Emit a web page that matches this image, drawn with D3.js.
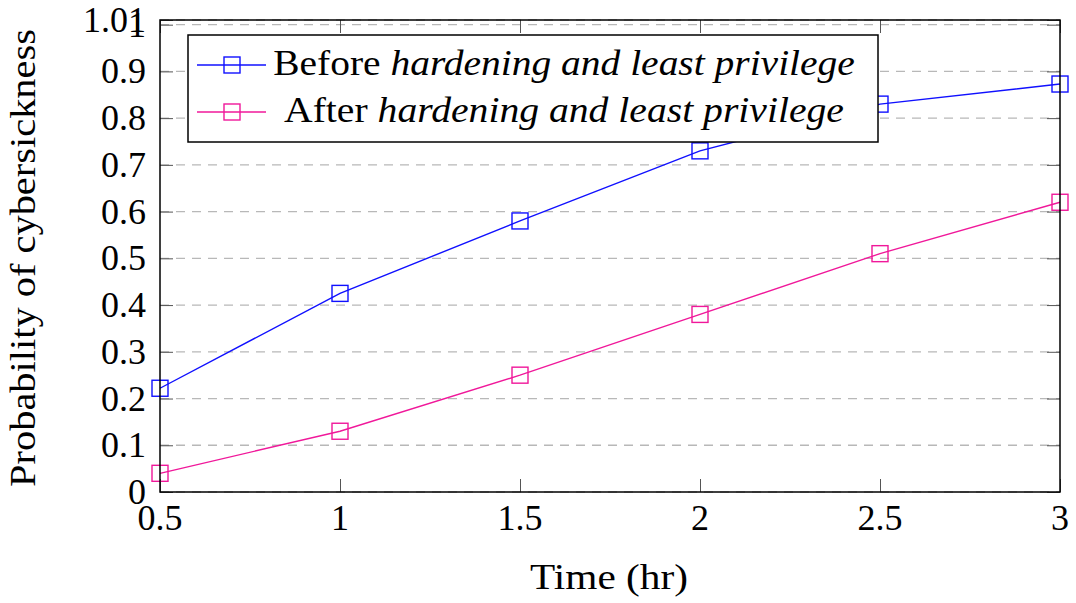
<!DOCTYPE html>
<html>
<head>
<meta charset="utf-8">
<script src="https://cdn.jsdelivr.net/npm/d3@7"></script>
<style>
  html, body { margin: 0; padding: 0; background: #ffffff; }
  svg { display: block; }
  text { font-family: "Liberation Serif", "DejaVu Serif", serif; fill: #000; }
</style>
</head>
<body>
<svg id="chart" width="1076" height="603"></svg>
<script>
// Time points (hours)
const times = [0.5, 1, 1.5, 2, 2.5, 3];
// Probability of cybersickness before/after hardening and least privilege
const beforeValues = [0.222, 0.425, 0.58, 0.73, 0.83, 0.873];
const afterValues  = [0.04, 0.13, 0.25, 0.38, 0.51, 0.62];
// Axis ticks
const xTicks = [0.5, 1, 1.5, 2, 2.5, 3];
const xTickLabels = ["0.5", "1", "1.5", "2", "2.5", "3"];
const yTicks = [0, 0.1, 0.2, 0.3, 0.4, 0.5, 0.6, 0.7, 0.8, 0.9, 1, 1.01];
const yTickLabels = ["0", "0.1", "0.2", "0.3", "0.4", "0.5", "0.6", "0.7", "0.8", "0.9", "1", "1.01"];
// Series definitions
const seriesNames = ["Before", "After"];
const seriesColors = ["#1010ff", "#f0189a"];
const seriesValues = [beforeValues, afterValues];

const svg = d3.select("#chart");
const plotLeft = 160, plotRight = 1060, plotTop = 20, plotBottom = 492;
const fontSize = 36;

const x = d3.scaleLinear().domain([0.5, 3]).range([plotLeft, plotRight]);
const y = d3.scaleLinear().domain([0, 1.01]).range([plotBottom, plotTop]);

// Stretch a text horizontally about a pivot so it spans the given width
function stretchTo(sel, width, pivotX) {
  const w = sel.node().getBBox().width;
  const k = width / w;
  sel.attr("transform", `translate(${pivotX},0) scale(${k},1) translate(${-pivotX},0)`);
}

// Horizontal dashed grid
svg.append("g")
  .selectAll("line")
  .data(yTicks)
  .join("line")
  .attr("x1", plotLeft).attr("x2", plotRight)
  .attr("y1", d => y(d)).attr("y2", d => y(d))
  .attr("stroke", "#b8b8b8")
  .attr("stroke-width", 1.3)
  .attr("stroke-dasharray", "9,7");

const tickLen = 13;
const tickColor = "#555";

// Inward ticks on all four sides
const axisLayer = svg.append("g");
const yAxisL = d3.axisLeft(y).tickValues(yTicks).tickSize(-tickLen).tickFormat("");
const yAxisR = d3.axisRight(y).tickValues(yTicks).tickSize(-tickLen).tickFormat("");
const xAxisB = d3.axisBottom(x).tickValues(xTicks).tickSize(-tickLen).tickFormat("");
const xAxisT = d3.axisTop(x).tickValues(xTicks).tickSize(-tickLen).tickFormat("");
[
  [yAxisL, `translate(${plotLeft},0)`],
  [yAxisR, `translate(${plotRight},0)`],
  [xAxisB, `translate(0,${plotBottom})`],
  [xAxisT, `translate(0,${plotTop})`]
].forEach(([ax, tr]) => {
  const g = axisLayer.append("g").attr("transform", tr).call(ax);
  g.select(".domain").remove();
  g.selectAll(".tick line").attr("stroke", tickColor).attr("stroke-width", 1);
});

// Tick labels
svg.append("g")
  .selectAll("text")
  .data(yTicks)
  .join("text")
  .attr("x", plotLeft - 14)
  .attr("y", d => y(d) + 12)
  .attr("text-anchor", "end")
  .attr("font-size", fontSize)
  .text((d, i) => yTickLabels[i]);

svg.append("g")
  .selectAll("text")
  .data(xTicks)
  .join("text")
  .attr("x", d => x(d))
  .attr("y", plotBottom + 38)
  .attr("text-anchor", "middle")
  .attr("font-size", fontSize)
  .text((d, i) => xTickLabels[i]);

// Axis titles
const xTitle = svg.append("text")
  .attr("x", 609)
  .attr("y", 589)
  .attr("text-anchor", "middle")
  .attr("font-size", fontSize)
  .text("Time (hr)");
stretchTo(xTitle, 158, 609);

const yTitleG = svg.append("g")
  .attr("transform", `translate(35,258) rotate(-90)`);
const yTitle = yTitleG.append("text")
  .attr("x", 0).attr("y", 0)
  .attr("text-anchor", "middle")
  .attr("font-size", fontSize)
  .text("Probability of cybersickness");
stretchTo(yTitle, 458, 0);

// Lines and square markers
const line = d3.line().x((d, i) => x(times[i])).y(d => y(d));
const markSize = 16;
seriesValues.forEach((vals, s) => {
  const g = svg.append("g");
  g.append("path")
    .attr("d", line(vals))
    .attr("fill", "none")
    .attr("stroke", seriesColors[s])
    .attr("stroke-width", 1.4);
  g.selectAll("rect")
    .data(vals)
    .join("rect")
    .attr("x", (d, i) => x(times[i]) - markSize / 2)
    .attr("y", d => y(d) - markSize / 2)
    .attr("width", markSize).attr("height", markSize)
    .attr("fill", "none")
    .attr("stroke", seriesColors[s])
    .attr("stroke-width", 1.4);
});

// Plot frame
svg.append("rect")
  .attr("x", plotLeft).attr("y", plotTop)
  .attr("width", plotRight - plotLeft).attr("height", plotBottom - plotTop)
  .attr("fill", "none")
  .attr("stroke", "#000")
  .attr("stroke-width", 1.5);

// Legend
const lg = svg.append("g");
const lgX = 188, lgY = 35, lgW = 690, lgH = 107;
lg.append("rect")
  .attr("x", lgX).attr("y", lgY).attr("width", lgW).attr("height", lgH)
  .attr("fill", "#fff").attr("stroke", "#000").attr("stroke-width", 1.5);
const rowY = [65, 112];
const textCenter = 564;
const textWidths = [582, 560];
seriesNames.forEach((name, s) => {
  lg.append("line")
    .attr("x1", 197).attr("x2", 266)
    .attr("y1", rowY[s]).attr("y2", rowY[s])
    .attr("stroke", seriesColors[s]).attr("stroke-width", 1.4);
  lg.append("rect")
    .attr("x", 232 - markSize / 2).attr("y", rowY[s] - markSize / 2)
    .attr("width", markSize).attr("height", markSize)
    .attr("fill", "none").attr("stroke", seriesColors[s]).attr("stroke-width", 1.4);
  const t = lg.append("text")
    .attr("x", textCenter).attr("y", rowY[s] + 10)
    .attr("text-anchor", "middle")
    .attr("font-size", fontSize);
  t.append("tspan").text(name + " ");
  t.append("tspan").attr("font-style", "italic").text("hardening and least privilege");
  stretchTo(t, textWidths[s], textCenter);
});
</script>
</body>
</html>
